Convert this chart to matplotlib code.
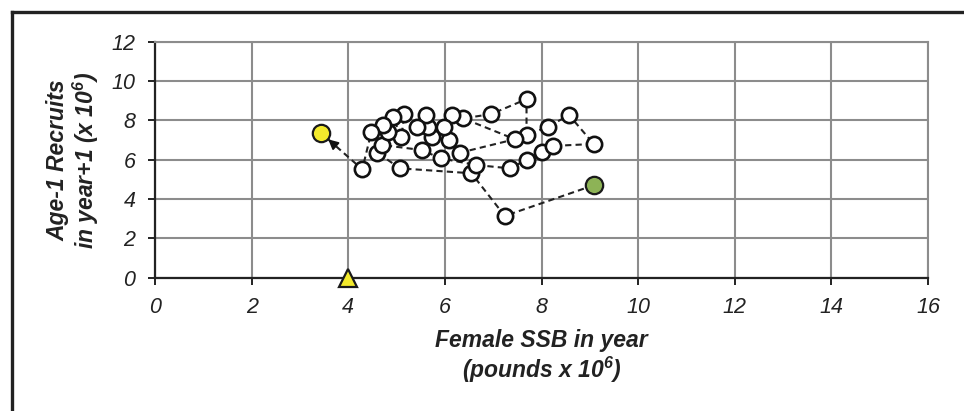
import matplotlib
matplotlib.use("Agg")
import matplotlib.pyplot as plt
from matplotlib.lines import Line2D

plt.rcParams['font.family'] = ['Liberation Sans', 'DejaVu Sans']

# Female SSB (x) and age-1 recruits the following year (y), in time order
ssb = [9.08, 7.24, 6.55, 5.07, 4.60, 4.70, 5.52, 5.91, 6.65, 7.34, 7.69, 8.02,
       8.24, 9.08, 8.57, 8.14, 7.69, 7.69, 6.96, 6.38, 7.45, 6.32, 6.08, 6.14,
       5.98, 5.74, 5.65, 5.60, 5.43, 5.16, 5.10, 4.93, 4.83, 4.72, 4.48, 4.29,
       3.43]
recruits = [4.70, 3.14, 5.31, 5.56, 6.36, 6.75, 6.49, 6.07, 5.73, 5.56, 5.98,
            6.41, 6.70, 6.80, 8.27, 7.68, 7.25, 9.08, 8.32, 8.10, 7.04, 6.36,
            7.00, 8.27, 7.68, 7.17, 7.68, 8.27, 7.68, 8.32, 7.14, 8.15, 7.42,
            7.76, 7.42, 5.51, 7.37]

# Reference SSB value marked on the x axis
ref_ssb = 4.0
ref_rec = 0.0

x_ticks = [0, 2, 4, 6, 8, 10, 12, 14, 16]
y_ticks = [0, 2, 4, 6, 8, 10, 12]

fig = plt.figure(figsize=(9.64, 4.11), dpi=100)
ax = fig.add_axes([155 / 964, 1 - 277.7 / 411, (928 - 155) / 964, (277.7 - 41.7) / 411])

# outer frame (top and left edges)
fig.add_artist(Line2D([12 / 964, 12 / 964], [0, 1 - 12 / 411], transform=fig.transFigure,
                      color='#222222', lw=2.4))
fig.add_artist(Line2D([12 / 964, 1], [1 - 12 / 411, 1 - 12 / 411], transform=fig.transFigure,
                      color='#222222', lw=2.4))

ax.set_xlim(0, 16)
ax.set_ylim(0, 12)
ax.set_xticks(x_ticks)
ax.set_yticks(y_ticks)
ax.grid(True, color='#8c8c8c', lw=1.5)
ax.set_axisbelow(True)
for side in ('top', 'right'):
    ax.spines[side].set_color('#8c8c8c')
    ax.spines[side].set_linewidth(1.5)
for side in ('left', 'bottom'):
    ax.spines[side].set_color('#222222')
    ax.spines[side].set_linewidth(1.6)
ax.tick_params(direction='out', length=5, width=1.4, color='#222222',
               labelsize=15.5, labelcolor='#222222')
ax.tick_params(axis='x', pad=9)
ax.tick_params(axis='y', pad=9)
for lab in ax.get_xticklabels() + ax.get_yticklabels():
    lab.set_fontstyle('italic')

# connecting path
ax.plot(ssb, recruits, ls=(0, (3.0, 2.0)), color='#222222', lw=1.5, zorder=3)

# arrowhead on the last segment
x0, y0 = ssb[-2], recruits[-2]
x1, y1 = ssb[-1], recruits[-1]
ax.annotate('', xy=(x1 + (x0 - x1) * 0.18, y1 + (y0 - y1) * 0.18),
            xytext=(x1 + (x0 - x1) * 0.35, y1 + (y0 - y1) * 0.35),
            arrowprops=dict(arrowstyle='-|>', color='#111111', lw=1.2,
                            mutation_scale=15, shrinkA=0, shrinkB=0), zorder=4)

# open circles for the intermediate years
ax.plot(ssb[1:-1], recruits[1:-1], ls='none', marker='o', ms=11,
        mfc='white', mec='#111111', mew=1.9, zorder=5)
# first year (green) and latest year (yellow)
ax.plot([ssb[0]], [recruits[0]], ls='none', marker='o', ms=12.5, mfc='#8db356',
        mec='#1a1a1a', mew=1.6, zorder=6)
ax.plot([ssb[-1]], [recruits[-1]], ls='none', marker='o', ms=12.5, mfc='#f3ea2c',
        mec='#1a1a1a', mew=1.6, zorder=6)
# reference point on the x axis
ax.plot([ref_ssb], [ref_rec], ls='none', marker='^', ms=13, mfc='#f3ea2c',
        mec='#1a1a1a', mew=1.6, zorder=7, clip_on=False)

fig.text(541.5 / 964, 1 - 357 / 411, 'Female SSB in year\n(pounds x 10$^\\mathregular{6}$)',
         ha='center', va='center', fontsize=16.5, fontweight='bold', fontstyle='italic',
         color='#222222', linespacing=1.15)
fig.text(74 / 964, 1 - 160 / 411, 'Age-1 Recruits\nin year+1 (x 10$^\\mathregular{6}$)',
         ha='center', va='center', rotation=90, fontsize=16.5, fontweight='bold',
         fontstyle='italic', color='#222222', linespacing=1.05)

fig.savefig('out.png', dpi=100)
